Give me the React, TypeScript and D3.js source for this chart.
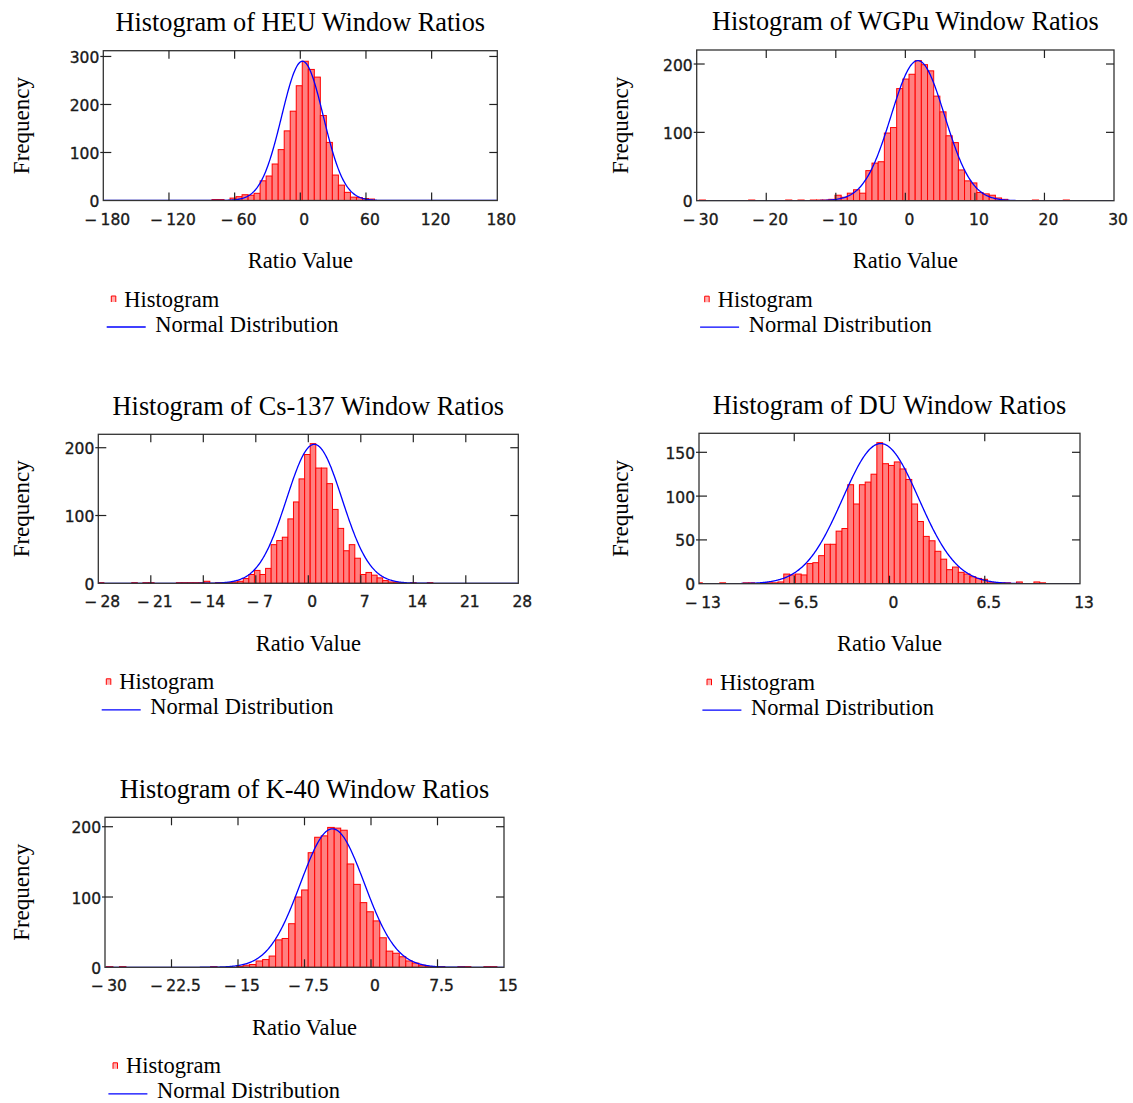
import React from 'react'
import * as d3 from 'd3'

// counts per bin (equal-width bins)
const heuCounts = [2, 2, 0, 5, 8, 12, 11, 15, 41, 51, 76, 106, 145, 186, 239, 290, 273, 257, 177, 121, 53, 32, 17, 7, 6, 4, 3]
const heuBinStart = -80.7
const heuBinWidth = 5.5

const wgpuCounts = [
  1, 0, 0, 0, 0, 0, 0, 0, 1, 0,
  0, 0, 0, 0, 1, 0, 1, 0, 1, 1,
  1, 2, 8, 5, 11, 16, 11, 44, 55, 57,
  99, 107, 164, 178, 185, 205, 199, 190, 153, 130,
  95, 85, 45, 29, 26, 12, 10, 8, 4, 2,
  0, 0, 0, 0, 1, 0, 0, 0, 0, 1,
]
const wgpuBinStart = -29.63
const wgpuBinWidth = 0.887

const csCounts = [
  1, 0, 0, 0, 0, 0, 1, 0, 1, 1,
  0, 0, 0, 0, 1, 1, 1, 1, 1, 3,
  0, 1, 1, 1, 2, 3, 7, 13, 19, 13,
  22, 57, 63, 68, 95, 120, 154, 190, 206, 170,
  170, 147, 109, 81, 48, 57, 37, 13, 16, 12,
  8, 4, 2, 1, 1, 0, 1, 0, 0, 1,
]
const csBinStart = -28.0
const csBinWidth = 0.7435

const duCounts = [
  1, 0, 0, 0, 1, 0, 0, 0, 1, 1,
  0, 1, 1, 1, 2, 11, 10, 11, 10, 23,
  24, 32, 45, 45, 60, 63, 113, 91, 113, 116,
  125, 161, 137, 135, 139, 131, 119, 91, 71, 54,
  49, 37, 28, 16, 19, 13, 11, 8, 6, 5,
  1, 1, 1, 1, 0, 2, 0, 0, 2, 1,
]
const duBinStart = -13.17
const duBinWidth = 0.397

const kCounts = [
  1, 0, 1, 0, 0, 0, 0, 0, 0, 0,
  0, 0, 0, 0, 0, 0, 1, 0, 0, 0,
  1, 3, 4, 9, 11, 16, 39, 41, 62, 100,
  110, 163, 185, 187, 199, 198, 195, 147, 118, 92,
  79, 66, 42, 23, 20, 15, 9, 6, 3, 1,
  1, 1, 0, 0, 1, 1, 0, 0, 1, 1,
]
const kBinStart = -29.84
const kBinWidth = 0.734

// fitted normal curves (mean, sd, peak height)
const heuFit = { mean: 2, sd: 19, peak: 290 }
const wgpuFit = { mean: 1.8, sd: 3.85, peak: 205 }
const csFit = { mean: 0.8, sd: 3.7, peak: 205 }
const duFit = { mean: -0.6, sd: 2.6, peak: 160 }
const kFit = { mean: -4.35, sd: 3.6, peak: 197 }

// axis ticks
const heuXTicks = [-180, -120, -60, 0, 60, 120, 180]
const heuYTicks = [0, 100, 200, 300]
const wgpuXTicks = [-30, -20, -10, 0, 10, 20, 30]
const wgpuYTicks = [0, 100, 200]
const csXTicks = [-28, -21, -14, -7, 0, 7, 14, 21, 28]
const csYTicks = [0, 100, 200]
const duXTicks = [-13, -6.5, 0, 6.5, 13]
const duYTicks = [0, 50, 100, 150]
const kXTicks = [-30, -22.5, -15, -7.5, 0, 7.5, 15]
const kYTicks = [0, 100, 200]

const serif = '"Liberation Serif", "Times New Roman", serif'
const sans = '"DejaVu Sans", Verdana, sans-serif'

const fmt = (v: number) => (v < 0 ? '\u2212\u2009' + String(-v) : String(v))

type Props = {
  id: string
  title: string
  counts: number[]
  binStart: number
  binWidth: number
  xTicks: number[]
  yTicks: number[]
  yMax: number
  fit: { mean: number; sd: number; peak: number }
  left: number
  top: number
  width: number
  height: number
  yLabelX: number
}

const Histogram = (p: Props) => {
  const bottom = p.top + p.height
  const right = p.left + p.width
  const x = d3.scaleLinear().domain([p.xTicks[0], p.xTicks[p.xTicks.length - 1]]).range([p.left, right])
  const y = d3.scaleLinear().domain([0, p.yMax]).range([bottom, p.top])

  const [x0, x1] = x.domain()
  const curve = d3.range(0, 601).map((i) => {
    const v = x0 + ((x1 - x0) * i) / 600
    const z = (v - p.fit.mean) / p.fit.sd
    return [v, p.fit.peak * Math.exp(-0.5 * z * z)] as [number, number]
  })
  const line = d3.line<[number, number]>().x((d) => x(d[0])).y((d) => y(d[1]))

  const tick = 8
  const innerX = p.xTicks.slice(1, -1)
  const innerY = p.yTicks.filter((t) => t > 0 && t < p.yMax)

  return (
    <g>
      <defs>
        <clipPath id={'clip-' + p.id}>
          <rect x={p.left} y={p.top} width={p.width} height={p.height} />
        </clipPath>
      </defs>
      <text x={p.left + p.width / 2} y={p.top - 19.7} textAnchor="middle" fontFamily={serif} fontSize={26.3} fill="#000">
        {p.title}
      </text>

      <g clipPath={`url(#clip-${p.id})`}>
        {p.counts.map((c, i) => {
          if (c <= 0) return null
          const a = x(p.binStart + i * p.binWidth)
          const b = x(p.binStart + (i + 1) * p.binWidth)
          return (
            <rect key={i} x={a} y={y(c)} width={b - a} height={bottom - y(c)} fill="#ff8080" stroke="#ff0000" strokeWidth={1} />
          )
        })}
        <path d={line(curve) || ''} fill="none" stroke="#0000ff" strokeWidth={1.3} />
      </g>

      <rect x={p.left} y={p.top} width={p.width} height={p.height} fill="none" stroke="#333" strokeWidth={1.3} />
      {innerX.map((t) => (
        <g key={'xt' + t}>
          <line x1={x(t)} x2={x(t)} y1={bottom} y2={bottom - tick} stroke="#222" strokeWidth={1.2} />
          <line x1={x(t)} x2={x(t)} y1={p.top} y2={p.top + tick} stroke="#222" strokeWidth={1.2} />
        </g>
      ))}
      {innerY.map((t) => (
        <g key={'yt' + t}>
          <line x1={p.left - 3} x2={p.left + tick} y1={y(t)} y2={y(t)} stroke="#222" strokeWidth={1.2} />
          <line x1={right} x2={right - tick} y1={y(t)} y2={y(t)} stroke="#222" strokeWidth={1.2} />
        </g>
      ))}
      {p.xTicks.map((t) => (
        <text key={'xl' + t} x={x(t) + 4} y={bottom + 24} textAnchor="middle" fontFamily={sans} fontSize={15.5} fill="#1a1a1a" stroke="#1a1a1a" strokeWidth={0.35}>
          {fmt(t)}
        </text>
      ))}
      {p.yTicks.map((t) => (
        <text key={'yl' + t} x={p.left - 4} y={y(t) + 6.5} textAnchor="end" fontFamily={sans} fontSize={15.5} fill="#1a1a1a" stroke="#1a1a1a" strokeWidth={0.35}>
          {fmt(t)}
        </text>
      ))}

      <text
        transform={`translate(${p.yLabelX},${p.top + p.height / 2}) rotate(-90)`}
        textAnchor="middle"
        fontFamily={serif}
        fontSize={23}
        fill="#000"
      >
        Frequency
      </text>
      <text x={p.left + p.width / 2} y={bottom + 67.5} textAnchor="middle" fontFamily={serif} fontSize={22.5} fill="#000">
        Ratio Value
      </text>

      {/* legend */}
      <path
        d={`M${p.left + 8},${bottom + 101.5} V${bottom + 95.5} H${p.left + 12.5} V${bottom + 101.5}`}
        fill="#ffb0b0"
        stroke="#ff0000"
        strokeWidth={1}
      />
      <text x={p.left + 21} y={bottom + 106} fontFamily={serif} fontSize={22.5} fill="#000">
        Histogram
      </text>
      <line x1={p.left + 3.4} x2={p.left + 42.4} y1={bottom + 126.5} y2={bottom + 126.5} stroke="#0000ff" strokeWidth={1.3} />
      <text x={p.left + 52} y={bottom + 131} fontFamily={serif} fontSize={22.5} fill="#000">
        Normal Distribution
      </text>
    </g>
  )
}

const App = () => {
  return (
    <svg width={1133} height={1103} style={{ position: 'absolute', left: 0, top: 0, background: '#fff' }}>
      <Histogram
        id="heu"
        title="Histogram of HEU Window Ratios"
        counts={heuCounts}
        binStart={heuBinStart}
        binWidth={heuBinWidth}
        xTicks={heuXTicks}
        yTicks={heuYTicks}
        yMax={312}
        fit={heuFit}
        left={103.3}
        top={50.7}
        width={394}
        height={149.8}
        yLabelX={29}
      />
      <Histogram
        id="wgpu"
        title="Histogram of WGPu Window Ratios"
        counts={wgpuCounts}
        binStart={wgpuBinStart}
        binWidth={wgpuBinWidth}
        xTicks={wgpuXTicks}
        yTicks={wgpuYTicks}
        yMax={220.5}
        fit={wgpuFit}
        left={696.7}
        top={50}
        width={417.3}
        height={150.7}
        yLabelX={628}
      />
      <Histogram
        id="cs"
        title="Histogram of Cs-137 Window Ratios"
        counts={csCounts}
        binStart={csBinStart}
        binWidth={csBinWidth}
        xTicks={csXTicks}
        yTicks={csYTicks}
        yMax={219.8}
        fit={csFit}
        left={98.3}
        top={434.3}
        width={420}
        height={149}
        yLabelX={29}
      />
      <Histogram
        id="du"
        title="Histogram of DU Window Ratios"
        counts={duCounts}
        binStart={duBinStart}
        binWidth={duBinWidth}
        xTicks={duXTicks}
        yTicks={duYTicks}
        yMax={171.7}
        fit={duFit}
        left={699}
        top={433.3}
        width={381}
        height={150.4}
        yLabelX={628}
      />
      <Histogram
        id="k40"
        title="Histogram of K-40 Window Ratios"
        counts={kCounts}
        binStart={kBinStart}
        binWidth={kBinWidth}
        xTicks={kXTicks}
        yTicks={kYTicks}
        yMax={213.4}
        fit={kFit}
        left={105}
        top={817.3}
        width={399}
        height={150}
        yLabelX={29}
      />
    </svg>
  )
}

export default App
